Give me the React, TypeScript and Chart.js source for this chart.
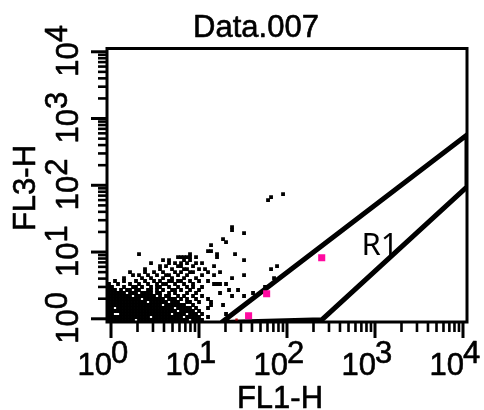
import React, { useEffect, useRef } from "react";
import { Chart, registerables } from "chart.js";

Chart.register(...registerables);

// ---- text ----
const TITLE = "Data.007";
const X_LABEL = "FL1-H";
const Y_LABEL = "FL3-H";
const GATE_LABEL = "R1";
const DECADES = [0, 1, 2, 3, 4];
const MINOR_DIGITS = [2, 3, 4, 5, 6, 7, 8, 9];

// ---- axis range (log10 units) ----
const X_LOG_MIN = -0.0455;
const X_LOG_MAX = 4.0455;
const Y_LOG_MIN = -0.048;
const Y_LOG_MAX = 4.049;

// ---- event grid: channel bins (log10 units) ----
const X_BIN0 = -0.0227;
const X_BIN = 0.0341;
const Y_BIN0 = -0.018;
const Y_BIN = 0.0449;

// occupied FL1 bins for each FL3 bin, from FL3 bin 0 upwards
const EVENT_ROWS: string[] = [
  "0-8,10-26,28-31",
  "0-13,15-24,26-30,33",
  "0-1,4-20,22-25,27-29,31,39",
  "0-22,24-28,30",
  "0-1,3-21,23-27,29,33",
  "0-17,19-25,28,34,38",
  "0-12,14-19,21-23,26-27,30,34",
  "0-10,12-18,20-22,24,26,29,33",
  "0-7,9-15,17,19-20,23,25,28,31,41,45",
  "0-5,7-9,11-14,16-17,20,22,26,29,37,48",
  "0-2,4,6-7,9-10,13-14,16,18,21-22,24,27,30,40,43",
  "0-1,5,8-9,11,14,16-17,20,23,26,28,31,52",
  "0,3,7,10,13,16,18-19,22,25,28,35-37,39",
  "2,5,9,12,15,17,20-21,23-24,27,30,33",
  "5,11,14,18,21,25,29,41,55",
  "8,10,13,16,19-20,23,26,31,35,45",
  "7,12,15,18,22,24,27-28,33,37",
  "12,17,21,25-26,30,32,54",
  "17,19,23-24,28,35,56",
  "14,20,22,24,26,29,31",
  "18,20,25,27,45",
  "23-27,29,36",
  "10,27,36,42",
  "33-34",
  "",
  "34",
  "39",
  "38",
  "",
  "45",
  "41",
  "41",
  "", "", "", "", "", "", "", "",
  "53",
  "54",
  "58",
];

// gated (pink) events
const PINK_X = [248, 58.7, 36.6];
const PINK_Y = [8.2, 2.37, 1.11];
// small red event
const RED_X = [26.7];
const RED_Y = [0.97];

// gate R1 polygon
const GATE_X = [18, 250, 11100, 11100, 18];
const GATE_Y = [0.88, 0.97, 95, 567, 0.88];
const GATE_LABEL_POS = { x: 1140, y: 9.0 };

const FONT = '31px "Liberation Sans", Arial, sans-serif';

function buildEvents() {
  const pts: { x: number; y: number }[] = [];
  EVENT_ROWS.forEach((row, j) => {
    if (!row) return;
    row.split(",").forEach((part) => {
      const [a, b] = part.split("-").map(Number);
      const end = b === undefined || isNaN(b) ? a : b;
      for (let i = a; i <= end; i++) {
        pts.push({ x: Math.pow(10, X_BIN0 + i * X_BIN), y: Math.pow(10, Y_BIN0 + j * Y_BIN) });
      }
    });
  });
  return pts;
}

function boldText(ctx: CanvasRenderingContext2D, s: string, x: number, y: number) {
  ctx.fillText(s, x, y);
  ctx.strokeText(s, x, y);
}

const framePlugin = {
  id: "facsFrame",
  afterDraw(chart: any) {
    const { ctx, chartArea: a, scales } = chart;
    const xs = scales.x;
    const ys = scales.y;
    ctx.save();
    ctx.strokeStyle = "#000";
    ctx.fillStyle = "#000";
    ctx.lineCap = "butt";
    ctx.lineJoin = "miter";
    ctx.lineWidth = 3;
    ctx.strokeRect(a.left, a.top, a.right - a.left, a.bottom - a.top);

    const ticks: { v: number; major: boolean }[] = [];
    for (let k = 0; k < 4; k++) {
      ticks.push({ v: Math.pow(10, k), major: true });
      MINOR_DIGITS.forEach((d) => ticks.push({ v: d * Math.pow(10, k), major: false }));
    }
    ticks.push({ v: 10000, major: true });

    ticks.forEach(({ v, major }) => {
      ctx.lineWidth = major ? 3 : 2.6;
      const px = xs.getPixelForValue(v);
      ctx.beginPath();
      ctx.moveTo(px, a.bottom);
      ctx.lineTo(px, a.bottom + (major ? 16 : 10));
      ctx.stroke();
      const py = ys.getPixelForValue(v);
      ctx.beginPath();
      ctx.moveTo(a.left, py);
      ctx.lineTo(a.left - (major ? 16 : 9), py);
      ctx.stroke();
    });

    ctx.font = FONT;
    ctx.textBaseline = "alphabetic";
    ctx.lineWidth = 0.6;
    ctx.lineJoin = "round";
    // x tick labels
    DECADES.forEach((k) => {
      const px = xs.getPixelForValue(Math.pow(10, k));
      ctx.textAlign = "right";
      boldText(ctx, "10", px + 1, 375);
      ctx.textAlign = "left";
      boldText(ctx, String(k), px, 363);
    });
    // y tick labels (rotated)
    DECADES.forEach((k) => {
      const py = ys.getPixelForValue(Math.pow(10, k));
      const w10 = ctx.measureText("10").width;
      const ws = ctx.measureText(String(k)).width;
      const start = -(w10 + ws) / 2 + 1;
      ctx.save();
      ctx.translate(78, py);
      ctx.rotate(-Math.PI / 2);
      ctx.textAlign = "left";
      boldText(ctx, "10", start, 0);
      boldText(ctx, String(k), start + w10, -11);
      ctx.restore();
    });

    // titles
    ctx.textAlign = "center";
    boldText(ctx, TITLE, 256, 37);
    boldText(ctx, X_LABEL, 280, 408);
    ctx.save();
    ctx.translate(35, 188);
    ctx.rotate(-Math.PI / 2);
    boldText(ctx, Y_LABEL, 0, 0);
    ctx.restore();

    // gate label
    ctx.font = '31px "Noto Sans", "Liberation Sans", sans-serif';
    ctx.textAlign = "center";
    ctx.fillText(GATE_LABEL, xs.getPixelForValue(GATE_LABEL_POS.x), ys.getPixelForValue(GATE_LABEL_POS.y));
    ctx.restore();
  },
};

export default function App() {
  const ref = useRef<HTMLCanvasElement | null>(null);
  useEffect(() => {
    document.body.style.margin = "0";
    const canvas = ref.current;
    if (!canvas) return;
    const events = buildEvents();
    const gate = GATE_X.map((x, i) => ({ x, y: GATE_Y[i] }));
    const pink = PINK_X.map((x, i) => ({ x, y: PINK_Y[i] }));
    const red = RED_X.map((x, i) => ({ x, y: RED_Y[i] }));
    const chart = new Chart(canvas, {
      type: "scatter",
      data: {
        datasets: [
          {
            label: "R1",
            data: gate,
            showLine: true,
            borderColor: "#000",
            borderWidth: 5,
            pointRadius: 0,
            fill: false,
            tension: 0,
            clip: 0,
            order: 3,
          } as any,
          {
            label: "events",
            data: events,
            pointStyle: "rect",
            pointRadius: 2.7,
            backgroundColor: "#000",
            borderWidth: 0,
            clip: 0,
            order: 2,
          } as any,
          {
            label: "red",
            data: red,
            pointStyle: "rect",
            pointRadius: 1.7,
            backgroundColor: "#c4000c",
            borderWidth: 0,
            clip: 0,
            order: 1,
          } as any,
          {
            label: "gated",
            data: pink,
            pointStyle: "rect",
            pointRadius: 5,
            backgroundColor: "rgb(255,10,160)",
            borderWidth: 0,
            clip: 0,
            order: 0,
          } as any,
        ],
      },
      options: {
        responsive: false,
        animation: false,
        devicePixelRatio: 1,
        events: [],
        layout: { padding: { left: 107, right: 17, top: 48.5, bottom: 88 } },
        plugins: { legend: { display: false }, tooltip: { enabled: false }, title: { display: false } },
        scales: {
          x: { type: "logarithmic", display: false, min: Math.pow(10, X_LOG_MIN), max: Math.pow(10, X_LOG_MAX) },
          y: { type: "logarithmic", display: false, min: Math.pow(10, Y_LOG_MIN), max: Math.pow(10, Y_LOG_MAX) },
        },
      },
      plugins: [framePlugin],
    });
    return () => chart.destroy();
  }, []);
  return (
    <div style={{ width: 484, height: 410 }}>
      <canvas ref={ref} width={484} height={410} style={{ display: "block" }} />
    </div>
  );
}
